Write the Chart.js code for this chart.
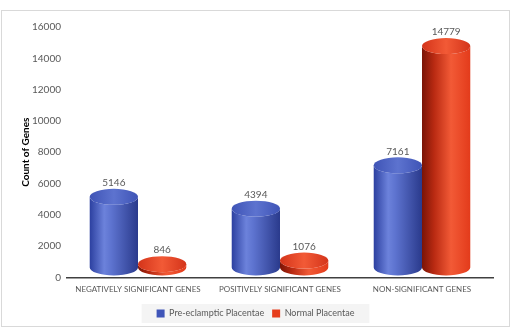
<!DOCTYPE html>
<html>
<head>
<meta charset="utf-8">
<script src="https://cdn.jsdelivr.net/npm/chart.js@4"></script>
<style>
  body { margin: 0; background: #fff; }
  #chart { position: absolute; left: 0; top: 0; }
  #frame { position: absolute; left: 1px; top: 10px; width: 509px; height: 317px; border: 1px solid #d9d9d9; box-sizing: border-box; pointer-events: none; }
</style>
</head>
<body>
<canvas id="chart" width="513" height="330"></canvas>
<div id="frame"></div>
<script>
const categories = ["NEGATIVELY SIGNIFICANT GENES", "POSITIVELY SIGNIFICANT GENES", "NON-SIGNIFICANT GENES"];
const preEclampticValues = [5146, 4394, 7161];
const normalValues = [846, 1076, 14779];
const seriesNames = ["Pre-eclamptic Placentae", "Normal Placentae"];

const FONT = "Lato, sans-serif";
const palettes = [
  { swatch: "#3f55b8", side: [[0, "#2c40a0"], [0.3, "#6c82db"], [0.45, "#5d73cf"], [1, "#2a3a8c"]], top: "#3f54b6" },
  { swatch: "#e63d1c", side: [[0, "#7a1406"], [0.25, "#b92a12"], [0.6, "#f25a36"], [1, "#e33b1b"]], top: "#d4341a" }
];

// draws every bar as a cylinder, using the element geometry from the bar controller
const cylinders = {
  id: "cylinders",
  afterDatasetsDraw(chart) {
    const ctx = chart.ctx;
    const floor = chart.scales.y.getPixelForValue(0) - 10;
    chart.data.datasets.forEach((ds, di) => {
      const pal = palettes[di];
      chart.getDatasetMeta(di).data.forEach((bar, i) => {
        const w = bar.width, rx = w / 2, ry = 8;
        const cx = bar.x, left = cx - rx;
        const top = Math.min(bar.y, floor - 2);
        ctx.save();
        const g = ctx.createLinearGradient(left, 0, left + w, 0);
        pal.side.forEach(s => g.addColorStop(s[0], s[1]));
        ctx.beginPath();
        ctx.moveTo(left, top);
        ctx.lineTo(left, floor);
        ctx.ellipse(cx, floor, rx, ry, 0, Math.PI, 0, true);
        ctx.lineTo(left + w, top);
        ctx.ellipse(cx, top, rx, ry, 0, 0, Math.PI, false);
        ctx.closePath();
        ctx.fillStyle = g;
        ctx.fill();
        ctx.beginPath();
        ctx.ellipse(cx, top, rx, ry, 0, 0, Math.PI * 2);
        const tg = ctx.createLinearGradient(left, 0, left + w, 0);
        tg.addColorStop(0, pal.top);
        tg.addColorStop(0.5, pal.side[2][1]);
        tg.addColorStop(1, pal.top);
        ctx.fillStyle = tg;
        ctx.fill();
        ctx.fillStyle = "#595959";
        ctx.font = "10px " + FONT;
        ctx.textAlign = "center";
        ctx.textBaseline = "bottom";
        ctx.fillText(String(ds.data[i]), cx, top - 9);
        ctx.restore();
      });
    });
  }
};

const legendBack = {
  id: "legendBack",
  beforeDraw(chart) {
    const l = chart.legend;
    if (!l) return;
    const items = l.legendHitBoxes;
    if (!items.length) return;
    const last = items[items.length - 1];
    const x0 = items[0].left - 15, x1 = last.left + last.width + 15;
    const ctx = chart.ctx;
    ctx.save();
    ctx.fillStyle = "#f4f4f4";
    ctx.fillRect(x0, items[0].top - 5, x1 - x0, items[0].height + 10);
    ctx.restore();
  }
};

new Chart(document.getElementById("chart"), {
  type: "bar",
  data: {
    labels: categories,
    datasets: [
      { label: seriesNames[0], data: preEclampticValues, backgroundColor: "transparent", borderWidth: 0 },
      { label: seriesNames[1], data: normalValues, backgroundColor: "transparent", borderWidth: 0 }
    ]
  },
  options: {
    responsive: false,
    animation: false,
    categoryPercentage: 0.68,
    barPercentage: 1,
    layout: { padding: { left: 18, right: 20, top: 27, bottom: 2 } },
    plugins: {
      tooltip: { enabled: false },
      legend: {
        position: "bottom",
        labels: {
          color: "#595959",
          font: { family: FONT, size: 9 },
          boxWidth: 8,
          boxHeight: 8,
          padding: 8,
          generateLabels: chart => chart.data.datasets.map((ds, i) => ({
            text: ds.label, fillStyle: palettes[i].swatch, strokeStyle: palettes[i].swatch, lineWidth: 0, datasetIndex: i, fontColor: "#595959"
          }))
        }
      }
    },
    scales: {
      x: {
        grid: { display: false, drawTicks: false },
        border: { display: true, color: "#404040", width: 1.5 },
        ticks: { color: "#595959", font: { family: FONT, size: 8 }, padding: 7, maxRotation: 0, autoSkip: false }
      },
      y: {
        min: 0,
        max: 16000,
        grid: { display: false, drawTicks: false },
        border: { display: false },
        ticks: { stepSize: 2000, color: "#595959", font: { family: FONT, size: 10 }, padding: 6, callback: v => String(v) },
        title: { display: true, text: "Count of Genes", color: "#000", font: { family: FONT, size: 10, weight: "bold" }, padding: { top: 2, bottom: -6 } }
      }
    }
  },
  plugins: [legendBack, cylinders]
});
</script>
</body>
</html>
